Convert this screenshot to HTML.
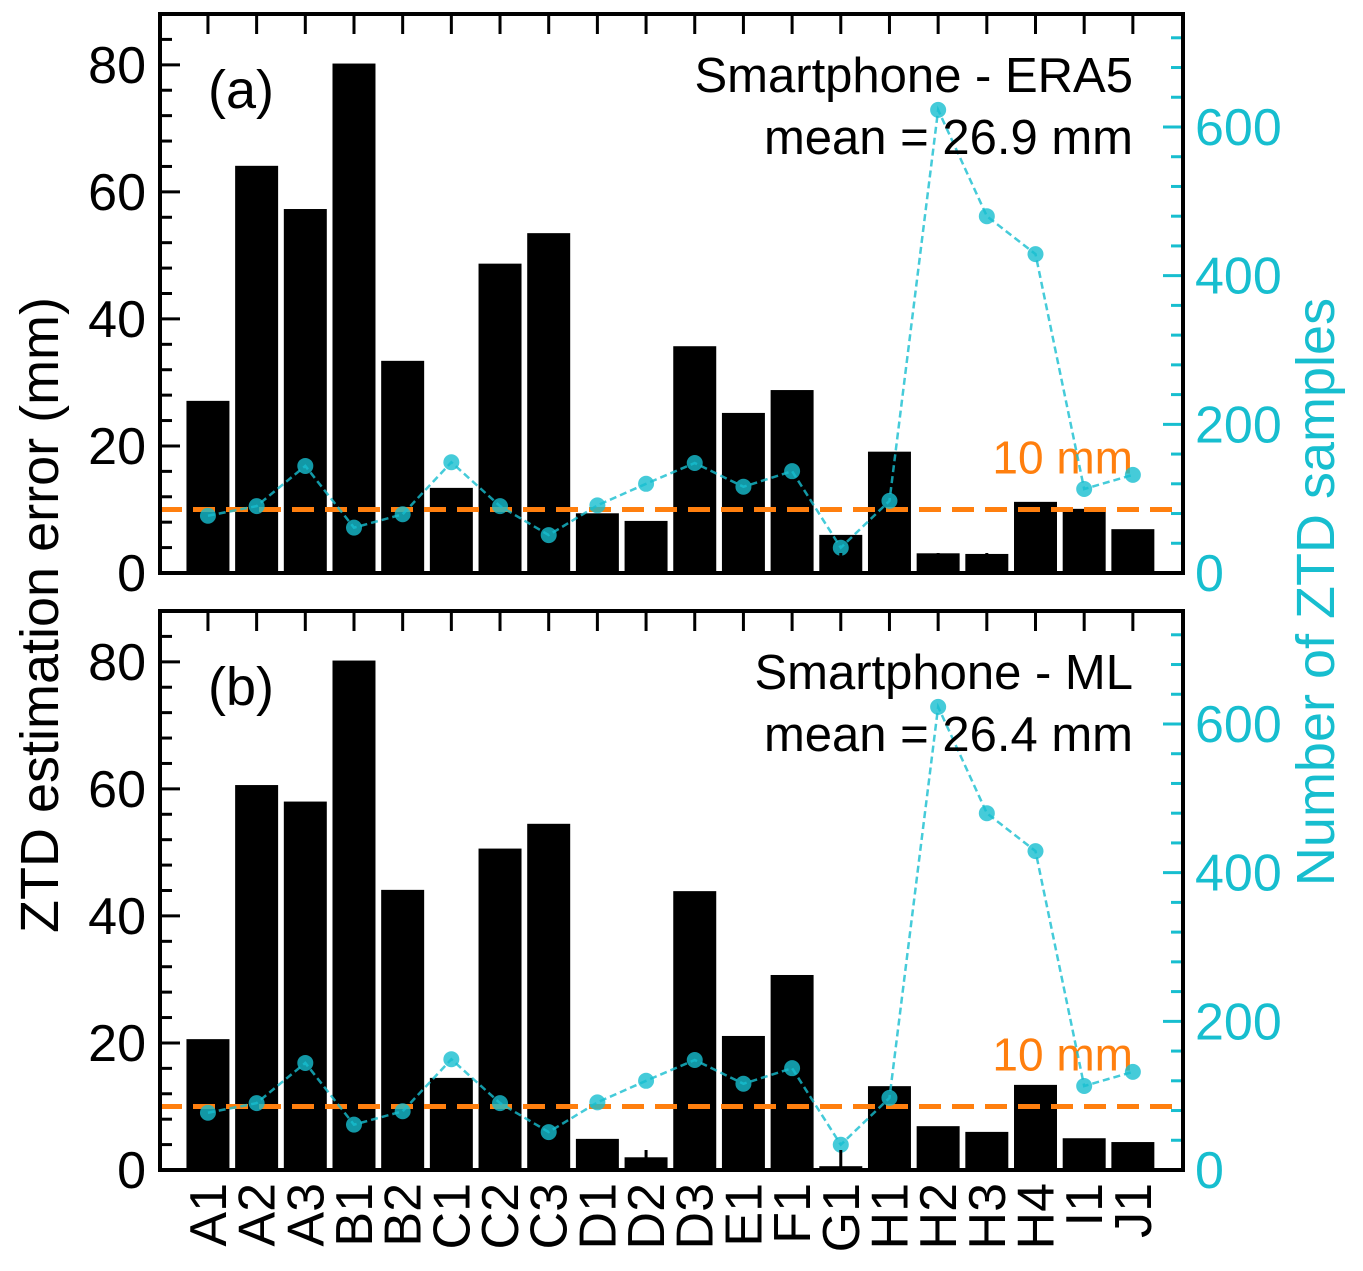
<!DOCTYPE html>
<html><head><meta charset="utf-8"><style>
body{margin:0;background:#fff}
text{font-family:"Liberation Sans",Arial,sans-serif}
</style></head><body>
<svg id="chart" width="1363" height="1266" xmlns="http://www.w3.org/2000/svg"></svg>
<script>
const categories=["A1","A2","A3","B1","B2","C1","C2","C3","D1","D2","D3","E1","F1","G1","H1","H2","H3","H4","I1","J1"];
const errEra5=[27.1,64.1,57.3,80.2,33.4,13.4,48.7,53.5,9.4,8.2,35.7,25.2,28.8,6.0,19.1,3.1,3.0,11.2,10.1,6.9];
const errML=[20.6,60.6,58.0,80.2,44.1,14.5,50.6,54.5,4.9,2.0,43.9,21.1,30.7,0.6,13.2,6.9,6.0,13.4,5.0,4.4];
const sampleCounts=[77,90,144,61,79,149,90,51,91,120,148,116,137,34,97,623,480,429,113,132];
const leftTicks=[0,20,40,60,80];
const rightTicks=[0,200,400,600];
const panelTitles=["Smartphone - ERA5","Smartphone - ML"];
const panelMeans=["mean = 26.9 mm","mean = 26.4 mm"];
const panelLetters=["(a)","(b)"];
const threshold=10;

const NS="http://www.w3.org/2000/svg";
const svg=document.getElementById('chart');
function mk(tag,attrs,parent){const e=document.createElementNS(NS,tag);for(const k in attrs)e.setAttribute(k,attrs[k]);(parent||svg).appendChild(e);return e;}
const X0=160,X1=1183,xmin=-0.985,xmax=20.03;
const xs=i=>X0+(i-xmin)/(xmax-xmin)*(X1-X0);
const bw=(43/48.7)*(X1-X0)/(xmax-xmin);
const panels=[{top:14,bot:573,data:errEra5},{top:611,bot:1170,data:errML}];
panels.forEach((p,pi)=>{
  const H=p.bot-p.top;
  const yL=v=>p.bot-v/88*H;
  const yR=v=>p.bot-v/752*H;
  const g=mk('g',{});
  
  
  p.data.forEach((v,i)=>{
    const r=mk('rect',{x:xs(i)-bw/2,y:yL(v),width:bw,height:p.bot-yL(v),fill:'#000'},g);
    
    
  });
  const tl=mk('line',{x1:X0,x2:X1,y1:yL(threshold),y2:yL(threshold),stroke:'#ff7f0e','stroke-width':5,'stroke-dasharray':'22,11'},g);
  
  
  const tt=mk('text',{x:1133,y:yL(threshold)-36,'font-size':46,fill:'#ff7f0e','text-anchor':'end'},g);tt.textContent=threshold+' mm';
  
  
  const pts=sampleCounts.map((n,i)=>xs(i)+','+yR(n)).join(' ');
  const pl=mk('polyline',{points:pts,fill:'none',stroke:'#17becf','stroke-opacity':0.8,'stroke-width':2.5,'stroke-dasharray':'7,4'},g);
  
  
  sampleCounts.forEach((n,i)=>{
    const c=mk('circle',{cx:xs(i),cy:yR(n),r:8,fill:'#17becf','fill-opacity':0.8},g);
    
    
  });
  for(let v=0;v<=88;v+=4){const maj=v%20===0;mk('line',{x1:X0,x2:X0+(maj?20:12),y1:yL(v),y2:yL(v),stroke:'#000','stroke-width':3},g);}
  leftTicks.forEach(v=>{const t=mk('text',{x:X0-14,y:yL(v)+18,'font-size':52,'text-anchor':'end'},g);t.textContent=v;
    
    });
  for(let v=0;v<=752;v+=40){const maj=v%200===0;mk('line',{x1:X1,x2:X1-(maj?20:12),y1:yR(v),y2:yR(v),stroke:'#17becf','stroke-width':3},g);}
  rightTicks.forEach(v=>{const t=mk('text',{x:X1+12,y:yR(v)+18,'font-size':52,fill:'#17becf'},g);t.textContent=v;
    
    });
  categories.forEach((c,i)=>{mk('line',{x1:xs(i),x2:xs(i),y1:p.top,y2:p.top+20,stroke:'#000','stroke-width':3},g);
    mk('line',{x1:xs(i),x2:xs(i),y1:p.bot,y2:p.bot-20,stroke:'#000','stroke-width':3},g);});
  mk('rect',{x:X0,y:p.top,width:X1-X0,height:H,fill:'none',stroke:'#000','stroke-width':4},g);
  const lt=mk('text',{x:208,y:p.top+94,'font-size':54},g);lt.textContent=panelLetters[pi];
  
  
  const t1=mk('text',{x:1133,y:p.top+78,'font-size':49,'text-anchor':'end'},g);t1.textContent=panelTitles[pi];
  
  
  const t2=mk('text',{x:1133,y:p.top+140,'font-size':49,'text-anchor':'end'},g);t2.textContent=panelMeans[pi];
  
  
});
categories.forEach((c,i)=>{const t=mk('text',{transform:`translate(${xs(i)+18},1183) rotate(-90)`,'font-size':52,'text-anchor':'end'});t.textContent=c;
  
  });
const yl=mk('text',{transform:'translate(58,615) rotate(-90)','font-size':54,'text-anchor':'middle'});yl.textContent='ZTD estimation error (mm)';


const yr=mk('text',{transform:'translate(1334,592) rotate(-90)','font-size':54,'text-anchor':'middle',fill:'#17becf'});yr.textContent='Number of ZTD samples';


</script>
</body></html>
